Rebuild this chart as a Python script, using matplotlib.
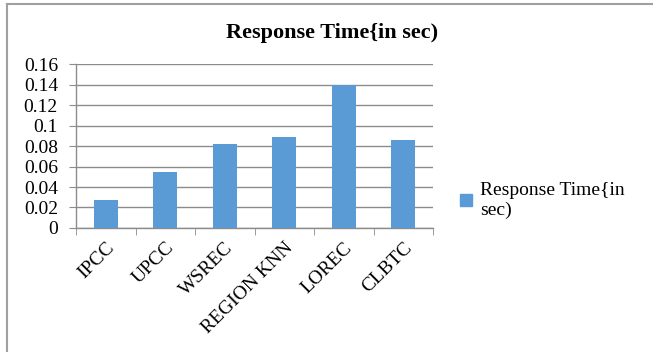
import matplotlib.pyplot as plt
import numpy as np
from matplotlib.lines import Line2D

# response time per method, seconds
methods = ["IPCC", "UPCC", "WSREC", "REGION KNN", "LOREC", "CLBTC"]
response_time = [0.027, 0.055, 0.082, 0.089, 0.140, 0.086]
series_name = "Response Time{in\nsec)"
chart_title = "Response Time{in sec)"
y_ticks = [0, 0.02, 0.04, 0.06, 0.08, 0.1, 0.12, 0.14, 0.16]
y_tick_labels = ["0", "0.02", "0.04", "0.06", "0.08", "0.1", "0.12", "0.14", "0.16"]

plt.rcParams['font.family'] = ['Liberation Serif', 'DejaVu Serif']

bar_color = "#5B9BD5"
grid_color = "#8C8C8C"

fig = plt.figure(figsize=(6.53, 3.52), dpi=100)
ax = fig.add_axes([0.1164, 0.3523, 0.5467, 0.4657])

x = np.arange(len(methods))
ax.bar(x, response_time, width=0.4, color=bar_color, zorder=3)

ax.set_xlim(-0.5, len(methods) - 0.5)
ax.set_ylim(0, 0.16)
ax.set_yticks(y_ticks)
ax.set_yticklabels(y_tick_labels, fontsize=14)
ax.yaxis.grid(True, color=grid_color, linewidth=1.0, zorder=0)

ax.set_xticks(x)
ax.set_xticklabels(methods, rotation=45, ha="right", rotation_mode="anchor",
                   fontsize=14)
ax.set_xticks(np.arange(len(methods) + 1) - 0.5, minor=True)
ax.tick_params(axis="x", which="major", length=0, pad=8)
ax.tick_params(axis="x", which="minor", length=5, color=grid_color, direction="out")
ax.tick_params(axis="y", length=5, color=grid_color, pad=8)

for side in ["top", "right"]:
    ax.spines[side].set_visible(False)
for side in ["left", "bottom"]:
    ax.spines[side].set_color(grid_color)
    ax.spines[side].set_linewidth(1.0)

fig.text(0.509, 0.905, chart_title, ha="center", va="center",
         fontsize=16, fontweight="bold")

# legend entry on the right
handle = Line2D([], [], marker="s", linestyle="none", markersize=8,
                markerfacecolor=bar_color, markeredgecolor=bar_color)
fig.legend([handle], [series_name], loc="upper left",
           bbox_to_anchor=(0.69, 0.51), frameon=False, fontsize=14,
           handlelength=0.6, handletextpad=0.4, borderpad=0)

# chart area border (top and left edges)
fig.add_artist(Line2D([0.0107, 1.0], [0.989, 0.989], color="#A0A0A0",
                      linewidth=1.5, transform=fig.transFigure))
fig.add_artist(Line2D([0.0107, 0.0107], [0.0, 0.989], color="#A0A0A0",
                      linewidth=1.5, transform=fig.transFigure))

fig.savefig("out.png", dpi=100, facecolor="white")
